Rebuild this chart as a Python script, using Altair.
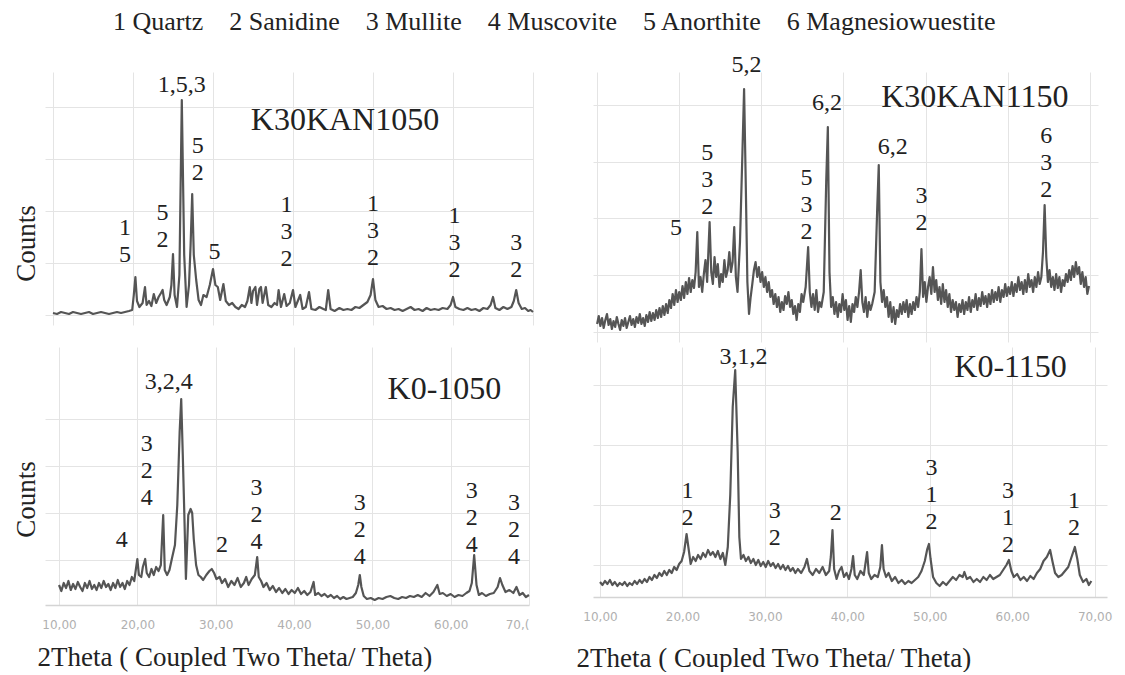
import altair as alt
import pandas as pd

SERIF = "Liberation Serif"
TXT = "#222222"
LINE = "#555555"
GRID = "#e4e4e4"
LINE_PITCH = 27

GAP = "\u00a0\u00a0\u00a0\u00a0"
legend_items = ["1 Quartz", "2 Sanidine", "3 Mullite", "4 Muscovite", "5 Anorthite", "6 Magnesiowuestite"]
legend_text = GAP.join(legend_items)
legend_pos = (17.5, 293)

x_ticks = [10, 20, 30, 40, 50, 60, 70]

# ---- K30KAN1050 (2theta, counts) ----
k30kan1050_scan = [
    (10.0, 2), (10.5, 1), (11.0, 3), (11.5, 2), (12.0, 1), (12.5, 3), (13.0, 2), (13.5, 1),
    (14.0, 2), (14.5, 3), (15.0, 1), (15.5, 2), (16.0, 3), (16.5, 2), (17.0, 1), (17.5, 2),
    (18.0, 3), (18.5, 2), (19.0, 3), (19.5, 4), (19.9, 5), (20.1, 20), (20.3, 38), (20.5, 14),
    (20.8, 8), (21.2, 12), (21.5, 28), (21.7, 10), (22.0, 14), (22.3, 9), (22.6, 21), (22.9, 12),
    (23.2, 18), (23.5, 22), (23.7, 25), (23.9, 15), (24.2, 10), (24.6, 18), (24.8, 30), (25.0, 61),
    (25.2, 20), (25.5, 8), (25.8, 40), (26.1, 215), (26.4, 60), (26.7, 8), (27.0, 30), (27.2, 70),
    (27.4, 121), (27.6, 60), (27.9, 35), (28.2, 15), (28.5, 10), (28.8, 20), (29.2, 18), (29.6, 30),
    (30.0, 46), (30.3, 30), (30.6, 28), (30.9, 15), (31.3, 31), (31.6, 14), (32.0, 10), (32.4, 12),
    (32.8, 8), (33.2, 6), (33.6, 10), (34.0, 8), (34.3, 14), (34.6, 28), (34.8, 12), (35.0, 24),
    (35.3, 28), (35.5, 10), (35.8, 26), (36.0, 28), (36.2, 12), (36.6, 28), (36.9, 10), (37.3, 8),
    (37.7, 12), (38.0, 10), (38.2, 25), (38.5, 8), (38.9, 21), (39.2, 9), (39.6, 12), (40.0, 25),
    (40.3, 8), (40.9, 20), (41.2, 6), (41.6, 8), (42.0, 23), (42.3, 6), (42.8, 5), (43.3, 8),
    (43.8, 6), (44.1, 5), (44.4, 25), (44.7, 6), (45.2, 4), (45.8, 7), (46.3, 5), (46.8, 6),
    (47.3, 5), (47.8, 8), (48.3, 7), (48.8, 10), (49.3, 13), (49.7, 20), (50.0, 36), (50.3, 15),
    (50.7, 8), (51.2, 9), (51.7, 6), (52.2, 7), (52.7, 5), (53.2, 6), (53.7, 4), (54.2, 6),
    (54.7, 8), (55.2, 5), (55.7, 6), (56.2, 4), (56.7, 7), (57.2, 5), (57.7, 6), (58.2, 5),
    (58.7, 7), (59.3, 6), (59.7, 10), (60.0, 18), (60.3, 8), (60.8, 6), (61.3, 5), (61.8, 7),
    (62.3, 5), (62.8, 6), (63.3, 4), (63.8, 7), (64.3, 6), (64.7, 10), (65.0, 18), (65.3, 7),
    (65.8, 5), (66.3, 8), (66.8, 6), (67.3, 8), (67.6, 14), (67.9, 25), (68.2, 12), (68.6, 6),
    (69.0, 7), (69.4, 4), (69.7, 5), (70.0, 3),
]
k30kan1050_peaks = [
    (19.0, 48, "1\n5"), (23.7, 63, "5\n2"), (26.1, 218, "1,5,3"), (28.1, 130, "5\n2"),
    (30.2, 51, "5"), (39.2, 44, "1\n3\n2"), (50.0, 45, "1\n3\n2"), (60.2, 33, "1\n3\n2"),
    (67.9, 33, "3\n2"),
]

# ---- K30KAN1150 ----
k30kan1150_scan = [
    (10.0, 8), (10.2, 16), (10.4, 6), (10.6, 14), (10.8, 4), (11.0, 12), (11.2, 18), (11.4, 7),
    (11.6, 13), (11.8, 3), (12.0, 11), (12.2, 5), (12.4, 15), (12.6, 8), (12.8, 2), (13.0, 12),
    (13.2, 6), (13.4, 14), (13.6, 4), (13.8, 10), (14.0, 16), (14.2, 7), (14.4, 13), (14.6, 5),
    (14.8, 15), (15.0, 9), (15.2, 18), (15.4, 8), (15.6, 14), (15.8, 6), (16.0, 17), (16.2, 10),
    (16.4, 20), (16.6, 11), (16.8, 19), (17.0, 12), (17.2, 22), (17.4, 14), (17.6, 24), (17.8, 15),
    (18.0, 26), (18.2, 17), (18.4, 28), (18.6, 19), (18.8, 32), (19.0, 24), (19.2, 38), (19.4, 27),
    (19.6, 42), (19.8, 30), (20.0, 40), (20.2, 32), (20.4, 46), (20.6, 34), (20.8, 50), (21.0, 38),
    (21.2, 54), (21.4, 40), (21.6, 52), (21.8, 44), (22.0, 60), (22.2, 100), (22.4, 45), (22.6, 55),
    (22.8, 40), (23.0, 58), (23.2, 72), (23.4, 50), (23.7, 110), (23.9, 60), (24.1, 48), (24.3, 75),
    (24.5, 55), (24.7, 68), (24.9, 45), (25.1, 58), (25.3, 50), (25.5, 72), (25.7, 55), (25.9, 62),
    (26.1, 80), (26.3, 60), (26.5, 70), (26.7, 105), (26.9, 55), (27.1, 40), (27.4, 90), (27.7, 180),
    (27.9, 243), (28.1, 150), (28.3, 50), (28.5, 18), (28.7, 35), (28.9, 48), (29.1, 62), (29.3, 70),
    (29.5, 55), (29.7, 65), (29.9, 50), (30.1, 60), (30.3, 45), (30.5, 55), (30.7, 40), (30.9, 50),
    (31.1, 35), (31.3, 42), (31.5, 28), (31.7, 38), (31.9, 25), (32.1, 35), (32.3, 20), (32.5, 30),
    (32.7, 22), (32.9, 36), (33.1, 28), (33.3, 40), (33.5, 25), (33.7, 32), (33.9, 18), (34.1, 26),
    (34.3, 12), (34.5, 28), (34.7, 20), (34.9, 38), (35.1, 30), (35.4, 45), (35.7, 85), (35.9, 40),
    (36.1, 25), (36.3, 38), (36.5, 22), (36.7, 42), (36.9, 20), (37.1, 30), (37.3, 25), (37.6, 40),
    (37.9, 150), (38.1, 205), (38.3, 60), (38.5, 25), (38.7, 35), (38.9, 18), (39.1, 30), (39.3, 15),
    (39.5, 28), (39.7, 20), (39.9, 38), (40.1, 22), (40.3, 32), (40.5, 12), (40.7, 26), (40.9, 10),
    (41.1, 28), (41.3, 20), (41.5, 35), (41.7, 25), (41.9, 40), (42.1, 62), (42.3, 30), (42.5, 20),
    (42.7, 35), (42.9, 15), (43.1, 30), (43.3, 22), (43.5, 28), (43.8, 40), (44.1, 120), (44.3, 167),
    (44.5, 50), (44.7, 30), (44.9, 42), (45.1, 25), (45.3, 35), (45.5, 15), (45.7, 30), (45.9, 10),
    (46.1, 25), (46.3, 8), (46.5, 22), (46.7, 15), (46.9, 28), (47.1, 18), (47.3, 30), (47.5, 20),
    (47.7, 32), (47.9, 15), (48.1, 28), (48.3, 18), (48.5, 30), (48.7, 22), (48.9, 35), (49.1, 25),
    (49.3, 40), (49.5, 83), (49.7, 35), (49.9, 50), (50.1, 30), (50.3, 45), (50.5, 55), (50.7, 38),
    (50.9, 65), (51.1, 40), (51.3, 52), (51.5, 32), (51.7, 45), (51.9, 28), (52.1, 48), (52.3, 30),
    (52.5, 42), (52.7, 25), (52.9, 38), (53.1, 20), (53.3, 32), (53.5, 22), (53.7, 30), (53.9, 15),
    (54.1, 28), (54.3, 20), (54.5, 32), (54.7, 18), (54.9, 30), (55.1, 22), (55.3, 35), (55.5, 20),
    (55.7, 32), (55.9, 25), (56.1, 38), (56.3, 22), (56.5, 34), (56.7, 26), (56.9, 40), (57.1, 28),
    (57.3, 36), (57.5, 25), (57.7, 38), (57.9, 28), (58.1, 42), (58.3, 30), (58.5, 40), (58.7, 32),
    (58.9, 45), (59.1, 30), (59.3, 42), (59.5, 35), (59.7, 48), (59.9, 36), (60.1, 45), (60.3, 38),
    (60.5, 50), (60.7, 36), (60.9, 48), (61.1, 40), (61.3, 55), (61.5, 42), (61.7, 50), (61.9, 38),
    (62.1, 52), (62.3, 40), (62.5, 58), (62.7, 45), (62.9, 52), (63.1, 40), (63.3, 55), (63.5, 45),
    (63.7, 60), (63.9, 48), (64.1, 55), (64.3, 80), (64.5, 127), (64.7, 75), (64.9, 50), (65.1, 62),
    (65.3, 45), (65.5, 55), (65.7, 42), (65.9, 58), (66.1, 44), (66.3, 55), (66.5, 40), (66.7, 52),
    (66.9, 46), (67.1, 58), (67.3, 50), (67.5, 62), (67.7, 52), (67.9, 66), (68.1, 55), (68.3, 70),
    (68.5, 58), (68.7, 65), (68.9, 48), (69.1, 60), (69.3, 45), (69.5, 55), (69.7, 38), (69.9, 46),
]
k30kan1150_peaks = [
    (19.6, 92, "5"), (23.4, 113, "5\n3\n2"), (28.2, 255, "5,2"), (35.5, 88, "5\n3\n2"),
    (38.0, 217, "6,2"), (46.0, 173, "6,2"), (49.5, 97, "3\n2"), (64.7, 130, "6\n3\n2"),
]

# ---- K0-1050 ----
k0_1050_scan = [
    (10.0, 20), (10.3, 14), (10.6, 22), (10.9, 17), (11.2, 24), (11.5, 15), (11.8, 21), (12.1, 16),
    (12.4, 23), (12.7, 18), (13.0, 14), (13.3, 22), (13.6, 17), (13.9, 24), (14.2, 16), (14.5, 20),
    (14.8, 15), (15.1, 22), (15.4, 17), (15.7, 24), (16.0, 18), (16.3, 21), (16.6, 15), (16.9, 22),
    (17.2, 17), (17.5, 25), (17.8, 18), (18.1, 22), (18.4, 16), (18.7, 24), (19.0, 20), (19.3, 28),
    (19.6, 24), (19.8, 35), (20.0, 46), (20.2, 30), (20.5, 28), (20.7, 38), (21.0, 46), (21.2, 32),
    (21.5, 28), (21.8, 36), (22.1, 30), (22.4, 38), (22.7, 34), (23.0, 40), (23.3, 90), (23.5, 35),
    (23.8, 30), (24.1, 35), (24.4, 46), (24.8, 60), (25.1, 100), (25.4, 173), (25.6, 206), (25.8, 150),
    (26.0, 90), (26.2, 26), (26.5, 90), (26.8, 96), (27.0, 92), (27.2, 66), (27.5, 40), (27.8, 30),
    (28.1, 28), (28.4, 25), (28.8, 30), (29.2, 34), (29.5, 36), (29.8, 32), (30.1, 26), (30.5, 28),
    (30.8, 22), (31.2, 26), (31.6, 18), (32.0, 24), (32.4, 20), (32.8, 27), (33.2, 18), (33.6, 22),
    (33.9, 28), (34.2, 20), (34.6, 26), (35.0, 30), (35.3, 48), (35.5, 28), (35.8, 24), (36.1, 18),
    (36.5, 22), (36.9, 15), (37.3, 19), (37.7, 13), (38.1, 17), (38.5, 12), (38.9, 16), (39.3, 11),
    (39.7, 15), (40.1, 12), (40.5, 17), (40.9, 11), (41.3, 14), (41.7, 10), (42.1, 13), (42.5, 23),
    (42.7, 10), (43.1, 12), (43.5, 9), (43.9, 11), (44.3, 8), (44.7, 10), (45.1, 7), (45.5, 9),
    (45.9, 6), (46.3, 8), (46.7, 6), (47.1, 7), (47.5, 8), (47.9, 12), (48.2, 20), (48.4, 30),
    (48.6, 18), (48.9, 9), (49.3, 6), (49.8, 7), (50.3, 5), (50.8, 7), (51.3, 6), (51.8, 8),
    (52.3, 9), (52.8, 7), (53.3, 6), (53.8, 8), (54.3, 7), (54.8, 9), (55.3, 8), (55.8, 10),
    (56.3, 8), (56.8, 12), (57.3, 9), (57.8, 13), (58.3, 20), (58.6, 11), (59.0, 12), (59.5, 9),
    (60.0, 11), (60.5, 8), (61.0, 10), (61.5, 9), (62.0, 12), (62.4, 14), (62.7, 22), (63.0, 50),
    (63.3, 20), (63.6, 10), (64.0, 12), (64.5, 9), (65.0, 11), (65.5, 12), (66.0, 18), (66.3, 27),
    (66.6, 20), (67.0, 13), (67.5, 15), (68.0, 12), (68.4, 18), (68.8, 10), (69.2, 12), (69.6, 8),
    (70.0, 10),
]
k0_1050_peaks = [
    (18.0, 53, "4"), (21.2, 95, "3\n2\n4"), (24.0, 211, "3,2,4"), (30.8, 48, "2"),
    (35.2, 51, "3\n2\n4"), (48.4, 36, "3\n2\n4"), (62.7, 48, "3\n2\n4"), (68.1, 36, "3\n2\n4"),
]

# ---- K0-1150 ----
k0_1150_scan = [
    (10.0, 15), (10.3, 12), (10.6, 16), (10.9, 13), (11.2, 17), (11.5, 12), (11.8, 15), (12.1, 11),
    (12.4, 14), (12.7, 12), (13.0, 15), (13.3, 11), (13.6, 14), (13.9, 12), (14.2, 16), (14.5, 13),
    (14.8, 17), (15.1, 14), (15.4, 18), (15.7, 15), (16.0, 20), (16.3, 17), (16.6, 22), (16.9, 19),
    (17.2, 24), (17.5, 21), (17.8, 26), (18.1, 22), (18.4, 27), (18.7, 24), (19.0, 30), (19.3, 27),
    (19.6, 33), (19.9, 36), (20.2, 45), (20.5, 63), (20.8, 45), (21.0, 33), (21.3, 40), (21.6, 36),
    (21.9, 42), (22.2, 38), (22.5, 44), (22.8, 40), (23.1, 47), (23.4, 42), (23.7, 45), (24.0, 40),
    (24.3, 46), (24.6, 38), (24.9, 44), (25.2, 32), (25.5, 50), (25.8, 102), (26.1, 190), (26.4, 227),
    (26.7, 145), (26.9, 60), (27.1, 38), (27.4, 42), (27.7, 36), (28.0, 40), (28.3, 34), (28.6, 38),
    (28.9, 32), (29.2, 37), (29.5, 31), (29.8, 35), (30.1, 30), (30.4, 36), (30.7, 31), (31.0, 34),
    (31.3, 29), (31.6, 33), (31.9, 28), (32.2, 32), (32.5, 27), (32.8, 31), (33.1, 26), (33.4, 29),
    (33.7, 24), (34.0, 28), (34.4, 24), (34.8, 30), (35.1, 38), (35.4, 26), (35.8, 22), (36.2, 28),
    (36.6, 24), (37.0, 30), (37.4, 22), (37.8, 26), (38.0, 40), (38.2, 67), (38.4, 28), (38.7, 18),
    (39.0, 26), (39.3, 30), (39.6, 20), (39.9, 24), (40.2, 18), (40.5, 28), (40.7, 41), (40.9, 22),
    (41.2, 18), (41.6, 26), (42.0, 22), (42.4, 45), (42.6, 24), (42.9, 18), (43.3, 22), (43.7, 20),
    (44.0, 30), (44.2, 52), (44.4, 28), (44.7, 20), (45.0, 24), (45.4, 16), (45.8, 20), (46.2, 14),
    (46.6, 17), (47.0, 13), (47.4, 16), (47.8, 14), (48.2, 17), (48.6, 20), (49.0, 26), (49.4, 36),
    (49.7, 48), (49.9, 53), (50.1, 38), (50.4, 20), (50.8, 14), (51.2, 11), (51.6, 15), (52.0, 12),
    (52.4, 16), (52.8, 20), (53.2, 17), (53.6, 22), (54.0, 20), (54.2, 25), (54.5, 18), (54.9, 20),
    (55.3, 15), (55.7, 18), (56.1, 15), (56.5, 20), (56.9, 17), (57.3, 22), (57.7, 18), (58.1, 20),
    (58.5, 22), (58.9, 27), (59.3, 32), (59.6, 37), (59.9, 26), (60.2, 20), (60.6, 23), (61.0, 17),
    (61.4, 20), (61.8, 16), (62.2, 21), (62.6, 18), (63.0, 24), (63.4, 28), (63.8, 36), (64.2, 40),
    (64.6, 47), (64.9, 35), (65.2, 24), (65.6, 20), (66.0, 22), (66.4, 26), (66.8, 30), (67.2, 40),
    (67.6, 50), (67.9, 38), (68.2, 22), (68.6, 15), (69.0, 18), (69.3, 12), (69.6, 16),
]
k0_1150_peaks = [
    (20.6, 67, "1\n2"), (27.4, 228, "3,1,2"), (31.2, 47, "3\n2"), (38.6, 72, "2"),
    (50.2, 63, "3\n1\n2"), (59.5, 40, "3\n1\n2"), (67.5, 57, "1\n2"),
]

panel_names = ["K30KAN1050", "K30KAN1150", "K0-1050", "K0-1150"]
panel_name_pos = [(46.5, 185), (56.0, 225), (59.2, 206), (59.8, 220)]

grid_tl = [0, 26, 52, 78, 104, 130, 156, 182, 208]
grid_tr = [0, 28, 57, 85, 114, 142, 170, 199, 227]
grid_bl = [45, 92, 139, 186]
grid_br = [32, 62, 92, 122, 152, 182, 212, 242]

x_title = "2Theta ( Coupled Two Theta/ Theta)"


def panel(scan, peaks, name, name_xy, xdom, ydom, w, h, ygrid,
          bottom=False, counts_y=None, title_x=0, title_y=0, last_label=None, legend=False):
    line_df = pd.DataFrame(scan, columns=["theta", "counts"])
    lab_df = pd.DataFrame(peaks, columns=["theta", "counts", "label"])
    # the first line of a stacked label sits above the last one (1 count = 1 px here)
    lab_df["top"] = [c + (t.count("\n")) * LINE_PITCH for c, t in zip(lab_df["counts"], lab_df["label"])]
    name_df = pd.DataFrame([{"theta": name_xy[0], "counts": name_xy[1], "label": name}])

    if bottom:
        expr = "replace(format(datum.value, '.2f'), '.', ',')"
        if last_label:
            expr = "datum.value == 70 ? '" + last_label + "' : " + expr
        xaxis = alt.Axis(values=x_ticks, grid=True, gridColor=GRID, ticks=False, domain=True,
                         domainColor="#d4d4d4", domainWidth=1.5, labelExpr=expr,
                         labelColor="#b0b0b0", labelFontSize=12, labelFont="DejaVu Sans",
                         labelPadding=14, title=x_title, titleFont=SERIF, titleFontSize=27,
                         titleFontWeight="normal", titleColor=TXT, titleAlign="left",
                         titleBaseline="middle", titleX=title_x, titleY=title_y)
    else:
        xaxis = alt.Axis(values=x_ticks, grid=True, gridColor=GRID, ticks=False, domain=False,
                         labels=False, title=None)
    if counts_y is not None:
        yaxis = alt.Axis(values=ygrid, grid=True, gridColor=GRID, ticks=False, domain=False,
                         labels=False, title="Counts", titleFont=SERIF, titleFontSize=27,
                         titleFontWeight="normal", titleColor=TXT, titlePadding=5,
                         titleY=counts_y, minExtent=0)
    else:
        yaxis = alt.Axis(values=ygrid, grid=True, gridColor=GRID, ticks=False, domain=False,
                         labels=False, title=None, minExtent=0)

    xs = alt.Scale(domain=xdom, nice=False, zero=False)
    ys = alt.Scale(domain=ydom, nice=False, zero=False)

    line = alt.Chart(line_df).mark_line(color=LINE, strokeWidth=2.2, strokeJoin="round").encode(
        x=alt.X("theta:Q", scale=xs, axis=xaxis),
        y=alt.Y("counts:Q", scale=ys, axis=yaxis),
    )
    labels = alt.Chart(lab_df).mark_text(font=SERIF, fontSize=24, lineBreak="\n",
                                          lineHeight=LINE_PITCH, baseline="bottom",
                                          align="center", color=TXT).encode(
        x="theta:Q", y="top:Q", text="label:N")
    names = alt.Chart(name_df).mark_text(font=SERIF, fontSize=32, baseline="alphabetic",
                                         align="center", color=TXT).encode(
        x="theta:Q", y="counts:Q", text="label:N")
    layers = [line, labels, names]
    if legend:
        leg_df = pd.DataFrame([{"theta": legend_pos[0], "counts": legend_pos[1], "label": legend_text}])
        layers.append(alt.Chart(leg_df).mark_text(font=SERIF, fontSize=26, baseline="middle",
                                                  align="left", color=TXT).encode(
            x="theta:Q", y="counts:Q", text="label:N"))
    return alt.layer(*layers).properties(width=w, height=h)


tl = panel(k30kan1050_scan, k30kan1050_peaks, panel_names[0], panel_name_pos[0],
           [9.0, 70.0], [-10, 243], 488, 253, grid_tl, counts_y=171, legend=True)
tr = panel(k30kan1150_scan, k30kan1150_peaks, panel_names[1], panel_name_pos[1],
           [9.5, 71.0], [-10, 260], 505, 270, grid_tr)
bl = panel(k0_1050_scan, k0_1050_peaks, panel_names[2], panel_name_pos[2],
           [8.21, 70.0], [0, 258], 484, 258, grid_bl, bottom=True, counts_y=152,
           title_x=-8, title_y=52, last_label="70,(")
br = panel(k0_1150_scan, k0_1150_peaks, panel_names[3], panel_name_pos[3],
           [9.15, 71.5], [0, 250], 514, 250, grid_br, bottom=True, title_x=-17, title_y=61)

chart = alt.concat(tl, tr, bl, br, columns=2, spacing={"row": 5, "column": 60},
                   bounds="flush", align="each").properties(
    padding={"left": 3, "top": 0, "right": 0, "bottom": 0}
).configure_view(stroke="transparent")

chart.save("out.html", embed_options={"renderer": "svg", "actions": False})
